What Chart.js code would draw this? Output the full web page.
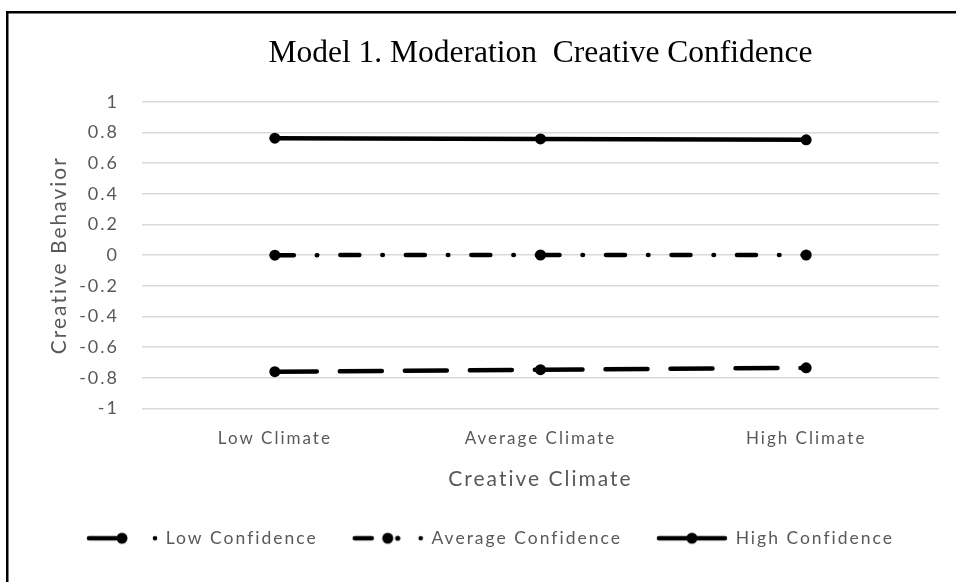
<!DOCTYPE html>
<html><head><meta charset="utf-8">
<script src="https://cdn.jsdelivr.net/npm/chart.js@4"></script>
<style>html,body{margin:0;padding:0;background:#fff}#wrap{width:956px;height:582px;position:relative}</style>
</head><body><div id="wrap"><canvas id="c" width="956" height="582"></canvas></div>
<script>
// ---- data ----
const categories = ['Low Climate', 'Average Climate', 'High Climate'];
const seriesNames = ['Low Confidence', 'Average Confidence', 'High Confidence'];
const lowConfidence = [0.0, 0.001, 0.001];
const averageConfidence = [-0.76, -0.747, -0.735];
const highConfidence = [0.763, 0.758, 0.752];
const yMin = -1, yMax = 1, yStep = 0.2;
const chartTitle = 'Model 1. Moderation  Creative Confidence';
const yTitle = 'Creative Behavior';
const xTitle = 'Creative Climate';

// ---- styles ----
const GREY = '#595959';
const SANS = 'Lato, "Open Sans", sans-serif';
const SPACING = '2px';

function sample(kind) {
  const cv = document.createElement('canvas');
  cv.width = 72; cv.height = 14;
  const g = cv.getContext('2d');
  g.fillStyle = '#000'; g.strokeStyle = '#000'; g.lineWidth = 4.5; g.lineCap = 'round';
  const cy = 7;
  const line = (a, b) => { g.beginPath(); g.moveTo(a, cy); g.lineTo(b, cy); g.stroke(); };
  const dot = (x, r) => { g.beginPath(); g.arc(x, cy, r, 0, Math.PI * 2); g.fill(); };
  if (kind === 0) { line(3, 30); dot(36, 5.5); dot(69, 2.3); }
  else if (kind === 1) { line(3, 20); dot(36, 5.5); dot(46, 2.6); dot(69, 2.3); }
  else { line(3, 69); dot(36, 5.5); }
  return cv;
}
const samples = [sample(0), sample(1), sample(2)];

const framePlugin = {
  id: 'frame',
  beforeUpdate(chart) { chart.ctx.letterSpacing = SPACING; },
  beforeLayout(chart) { chart.ctx.letterSpacing = SPACING; },
  afterLayout(chart) {
    const t = chart.titleBlock;
    if (t) { const ca = chart.chartArea; const c = (ca.left + ca.right) / 2; const w = t.right - t.left; t.left = c - w / 2; t.right = c + w / 2; }
  },
  beforeDraw(chart) {
    const ctx = chart.ctx;
    ctx.letterSpacing = SPACING;
    const t = chart.titleBlock;
    if (t && !t._wrapped) {
      const orig = t.draw;
      t.draw = function () { ctx.save(); ctx.letterSpacing = '0px'; orig.apply(this, arguments); ctx.restore(); };
      t._wrapped = true;
    }
    ctx.save();
    ctx.fillStyle = '#fff';
    ctx.fillRect(0, 0, chart.width, chart.height);
    ctx.fillStyle = '#000';
    ctx.fillRect(6, 11, 950, 2.5);
    ctx.fillRect(6, 11, 2.5, 571);
    ctx.restore();
  }
};

const dashDot = [19, 23, 0.5, 23];
const longDash = [42, 23];
const segDash = (pattern) => ({ borderDash: () => pattern, borderDashOffset: ctx => ctx.p0DataIndex * 0.001 });

new Chart(document.getElementById('c'), {
  type: 'line',
  data: {
    labels: categories,
    datasets: [
      { label: seriesNames[0], data: lowConfidence, borderDash: dashDot, segment: segDash(dashDot) },
      { label: seriesNames[1], data: averageConfidence, borderDash: longDash, segment: segDash(longDash) },
      { label: seriesNames[2], data: highConfidence, segment: { borderDashOffset: ctx => ctx.p0DataIndex * 0.001 } }
    ].map(d => Object.assign({
      borderColor: '#000', backgroundColor: '#000', borderWidth: 4.5, borderCapStyle: 'round',
      pointRadius: 5.5, pointHoverRadius: 5.5, pointBackgroundColor: '#000', pointBorderWidth: 0, fill: false, tension: 0
    }, d))
  },
  plugins: [framePlugin],
  options: {
    responsive: false, animation: false, devicePixelRatio: 1,
    layout: { padding: { left: 42, right: 17, top: 0, bottom: 25 } },
    plugins: {
      tooltip: { enabled: false },
      title: {
        display: true, text: chartTitle, color: '#000',
        font: { family: '"Liberation Serif", "Times New Roman", serif', size: 31.5, weight: 'normal', lineHeight: 1.2 },
        padding: { top: 35, bottom: 29 }
      },
      legend: {
        position: 'bottom', align: 'center',
        labels: {
          color: GREY, font: { family: SANS, size: 17.5 }, padding: 35,
          usePointStyle: true, pointStyleWidth: 70, boxHeight: 14,
          generateLabels: (chart) => chart.data.datasets.map((ds, i) => ({
            text: ds.label, fillStyle: '#000', strokeStyle: '#000', lineWidth: 0,
            pointStyle: samples[i], datasetIndex: i, hidden: false, fontColor: GREY
          }))
        }
      }
    },
    scales: {
      x: {
        offset: true,
        grid: { display: false, drawTicks: false, offset: true },
        border: { display: false },
        ticks: { color: GREY, font: { family: SANS, size: 17 }, padding: 20 },
        title: { display: true, text: xTitle, color: GREY, font: { family: SANS, size: 21 }, padding: { top: 8, bottom: 3 } },
        afterFit: s => { s.height = 86; }
      },
      y: {
        min: yMin, max: yMax,
        grid: { color: '#d9d9d9', lineWidth: 1.5, drawTicks: false },
        border: { display: false },
        ticks: { stepSize: yStep, color: GREY, font: { family: SANS, size: 18 }, padding: 23,
          callback: v => String(Math.round(v * 10) / 10) },
        title: { display: true, text: yTitle, color: GREY, font: { family: SANS, size: 21 }, padding: { top: 4.5, bottom: 0 } },
        afterFit: s => { s.width = 100; }
      }
    }
  }
});
</script>
</body></html>
